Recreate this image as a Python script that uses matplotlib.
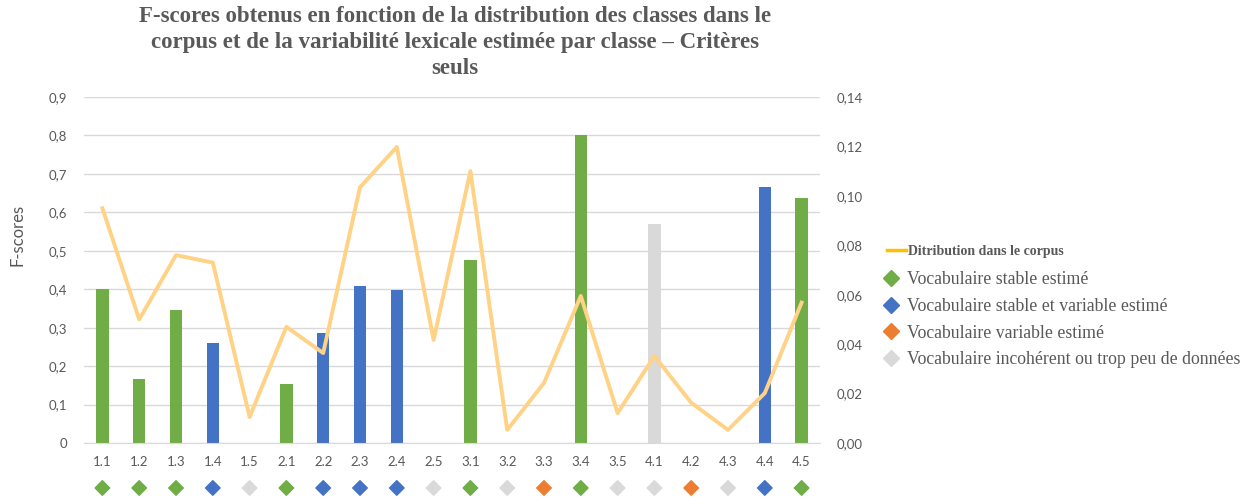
import matplotlib
matplotlib.use("Agg")
import matplotlib.pyplot as plt
from matplotlib.lines import Line2D
from matplotlib.ticker import FuncFormatter, MultipleLocator
import matplotlib.transforms as mtransforms

categories = ["1.1", "1.2", "1.3", "1.4", "1.5", "2.1", "2.2", "2.3", "2.4", "2.5",
              "3.1", "3.2", "3.3", "3.4", "3.5", "4.1", "4.2", "4.3", "4.4", "4.5"]
fscores = [0.40, 0.166, 0.346, 0.26, 0.0, 0.154, 0.285, 0.409, 0.399, 0.0,
           0.477, 0.0, 0.0, 0.80, 0.0, 0.569, 0.0, 0.0, 0.665, 0.636]
distribution = [0.095, 0.050, 0.076, 0.073, 0.0105, 0.047, 0.0364, 0.1035, 0.1198, 0.0417,
                0.110, 0.0053, 0.0243, 0.0595, 0.0121, 0.0352, 0.0163, 0.0053, 0.0202, 0.0568]
variability = ["stable", "stable", "stable", "mixed", "incoh", "stable", "mixed", "mixed", "mixed", "incoh",
               "stable", "incoh", "variable", "stable", "incoh", "incoh", "variable", "incoh", "mixed", "stable"]
class_labels = {
    "stable": "Vocabulaire stable estimé",
    "mixed": "Vocabulaire stable et variable estimé",
    "variable": "Vocabulaire variable estimé",
    "incoh": "Vocabulaire incohérent ou trop peu de données",
}
class_colors = {"stable": "#70AD47", "mixed": "#4472C4", "variable": "#ED7D31", "incoh": "#D9D9D9"}
title = ("F-scores obtenus en fonction de la distribution des classes dans le\n"
         "corpus et de la variabilité lexicale estimée par classe – Critères\nseuls")

TXT = "#595959"
fig = plt.figure(figsize=(12.54, 4.99), dpi=100)
ax = fig.add_axes([84/1254, 1-443/499, (820-84)/1254, (443-97)/499])

x = list(range(len(categories)))
ax.bar(x, fscores, width=0.34, color=[class_colors[v] for v in variability], zorder=2)
ax.set_xlim(-0.5, len(categories)-0.5)
ax.set_ylim(0, 0.9)
ax.yaxis.set_major_locator(MultipleLocator(0.1))
comma = lambda d: FuncFormatter(lambda v, p: (f"{v:.{d}f}".replace(".", ",") if abs(v) > 1e-9 else ("0" if d == 1 else "0,00")))
ax.yaxis.set_major_formatter(comma(1))
ax.grid(axis="y", color="#D9D9D9", linewidth=1, zorder=0)
ax.set_axisbelow(True)
for s in ["top", "right", "left"]:
    ax.spines[s].set_visible(False)
ax.spines["bottom"].set_color("#D9D9D9")
ax.set_xticks(x)
ax.set_xticklabels(categories)
ax.tick_params(axis="both", length=0, colors=TXT, labelsize=9.5, labelfontfamily="Lato")
ax.tick_params(axis="y", pad=12)
ax.tick_params(axis="x", pad=9)
ax.set_ylabel("F-scores", color=TXT, fontsize=12, family="Lato")
ax.yaxis.set_label_coords((26-84)/736, (443-235)/346)

# diamond row under the axis
trans = mtransforms.blended_transform_factory(ax.transData, ax.transAxes)
ax.scatter(x, [-0.13]*len(x), marker="D", s=55, c=[class_colors[v] for v in variability],
           transform=trans, clip_on=False, zorder=3)

ax2 = ax.twinx()
ax2.plot(x, distribution, color="#FFD285", linewidth=2.8, zorder=3)
ax2.set_ylim(0, 0.14)
ax2.yaxis.set_major_locator(MultipleLocator(0.02))
ax2.yaxis.set_major_formatter(comma(2))
for s in ax2.spines.values():
    s.set_visible(False)
ax2.tick_params(axis="y", length=0, colors=TXT, labelsize=9.5, labelfontfamily="Lato", pad=12)

fig.text(455/1254, 1-6/499, title, ha="center", va="top", fontsize=16.5, fontweight="bold",
         color=TXT, family="Liberation Serif", linespacing=1.32)

h1 = [Line2D([], [], color="#FFC000", linewidth=2.5)]
leg1 = fig.legend(h1, ["Ditribution dans le corpus"], loc="center left",
                  bbox_to_anchor=(874/1254, 1-251/499), frameon=False, handlelength=1.4,
                  handletextpad=0.15, prop={"family": "Liberation Serif", "size": 10, "weight": "bold"},
                  labelcolor=TXT)
h2 = [Line2D([], [], marker="D", linestyle="none", color=class_colors[k], markersize=8) for k in class_labels]
leg2 = fig.legend(h2, list(class_labels.values()), loc="upper left",
                  bbox_to_anchor=(866/1254, 1-255/499), frameon=False, handlelength=1.0,
                  handletextpad=0.4, labelspacing=0.55,
                  prop={"family": "Liberation Serif", "size": 12.8}, labelcolor=TXT)

fig.savefig("out.png", dpi=100)
